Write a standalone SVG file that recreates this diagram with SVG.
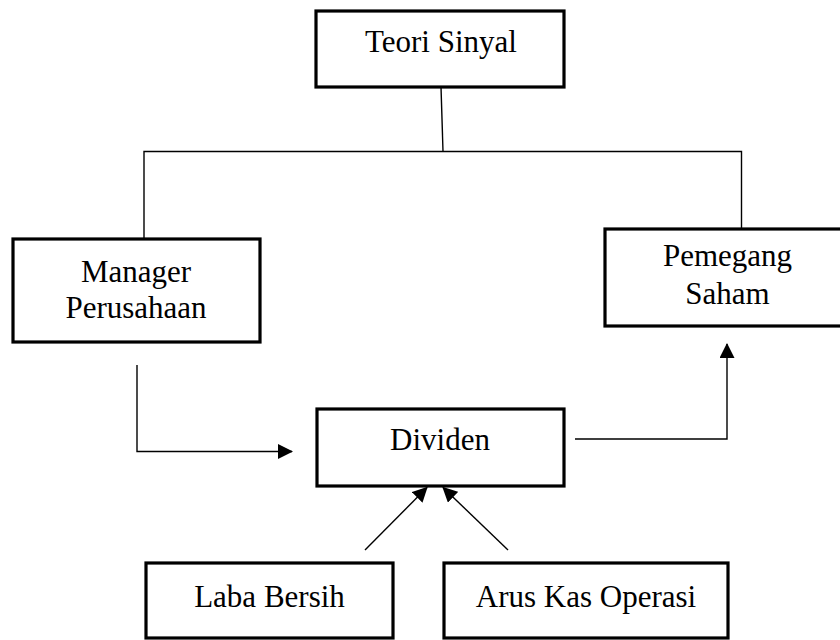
<svg xmlns="http://www.w3.org/2000/svg" width="840" height="640" viewBox="0 0 840 640">
<style>
.box{fill:#fff;stroke:#000;stroke-width:3.2}
.lbl{font-family:"Liberation Serif","Times New Roman",serif;font-size:31px;fill:#000;text-anchor:middle}
.ln{fill:none;stroke:#000;stroke-width:1.4}
</style>
<defs>
<marker id="ah" viewBox="0 0 15 15" refX="14" refY="7.5" markerWidth="15" markerHeight="15" markerUnits="userSpaceOnUse" orient="auto">
<path d="M0,0 L15,7.5 L0,15 Z" fill="#000"/>
</marker>
</defs>
<rect width="840" height="640" fill="#fff"/>
<g id="connectors">
<polyline class="ln" points="441,87 443,151.5"/>
<polyline class="ln" points="144,239 144,151.5 741.5,151.5 741.5,229"/>
<polyline class="ln" points="137,365 137,451.5 292,451.5" marker-end="url(#ah)"/>
<polyline class="ln" points="575,439 727,439 727,344" marker-end="url(#ah)"/>
<line class="ln" x1="365" y1="550" x2="427" y2="487.5" marker-end="url(#ah)"/>
<line class="ln" x1="508" y1="550" x2="443" y2="487.5" marker-end="url(#ah)"/>
</g>
<g id="teori">
<rect class="box" x="316" y="11" width="248" height="76"/>
<text class="lbl" x="441" y="52">Teori Sinyal</text>
</g>
<g id="manager">
<rect class="box" x="13" y="239" width="247" height="103"/>
<text class="lbl" x="136" y="282">Manager</text>
<text class="lbl" x="136" y="318">Perusahaan</text>
</g>
<g id="pemegang">
<rect class="box" x="605" y="229" width="245" height="97"/>
<text class="lbl" x="727.5" y="266">Pemegang</text>
<text class="lbl" x="727.5" y="304">Saham</text>
</g>
<g id="dividen">
<rect class="box" x="317" y="409" width="247" height="77"/>
<text class="lbl" x="440" y="450">Dividen</text>
</g>
<g id="laba">
<rect class="box" x="146" y="563" width="247" height="75"/>
<text class="lbl" x="269.5" y="607">Laba Bersih</text>
</g>
<g id="arus">
<rect class="box" x="444" y="563" width="284" height="75"/>
<text class="lbl" x="586" y="607">Arus Kas Operasi</text>
</g>
</svg>
